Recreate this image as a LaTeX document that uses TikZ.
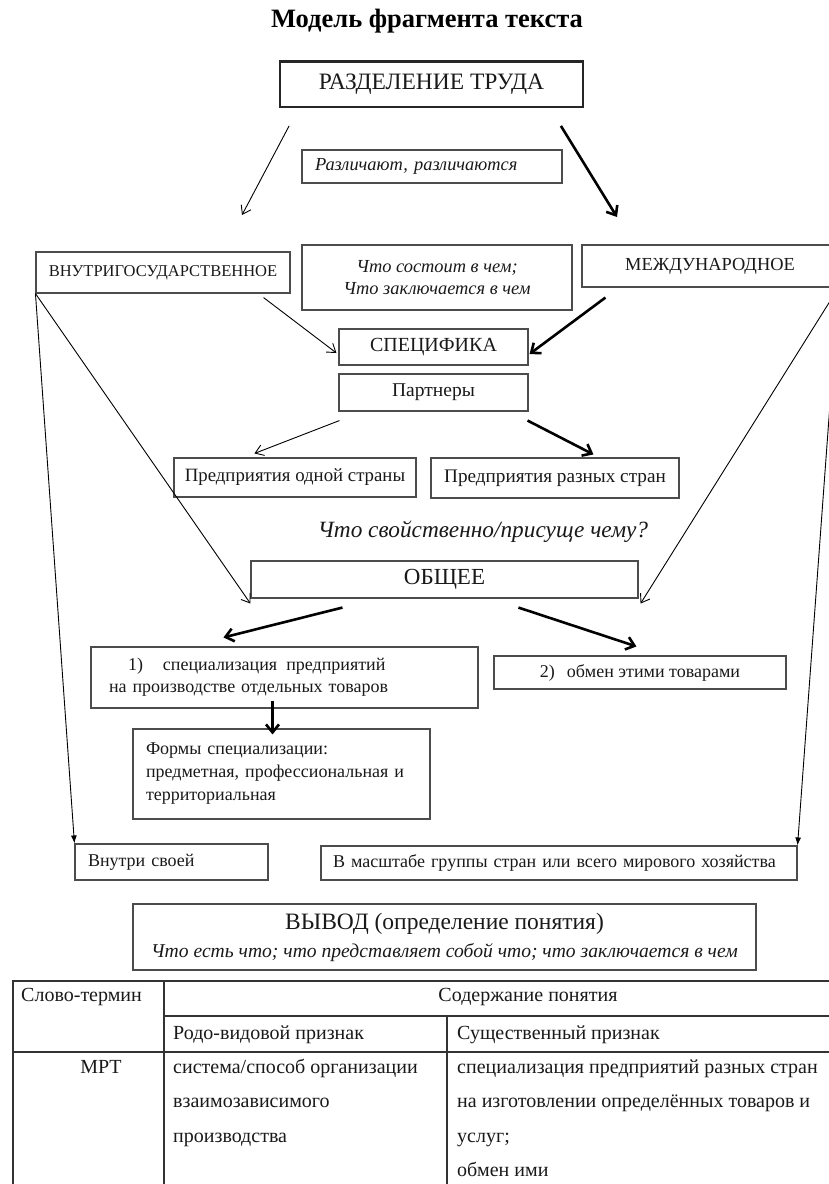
\documentclass[tikz,border=0pt]{standalone}
\usepackage{fontspec}
\setmainfont{Liberation Serif}
\usetikzlibrary{calc,arrows.meta}
\newcommand\setfs[2]{\fontsize{#1}{#2}\selectfont}

\begin{document}
\begin{tikzpicture}[x=1pt,y=-1pt,
  box/.style={draw=black!70,line width=1.1pt,inner sep=0pt,text=black!90,font=\setfs{18}{21}},
  thinarr/.style={line width=.9pt,-{Straight Barb[length=8pt,width=11pt]}},
  boldarr/.style={line width=2.6pt,-{Straight Barb[length=8pt,width=13pt]}},
  longarr/.style={line width=.9pt,-{Latex[length=8pt,width=6pt]}},
  tab/.style={line width=1.1pt,draw=black!80},
  cell/.style={anchor=base west,inner sep=0pt,text=black!90,font=\setfs{20}{23}}]
  \useasboundingbox (0,0) rectangle (828,1184);
  \node[anchor=base,font=\bfseries\setfs{26.5}{29}] (title) at (427,27) {Модель фрагмента текста};
  \node[box,line width=1.8pt,draw=black!85,minimum width=303pt,minimum height=45pt,font=\setfs{23.5}{26}] (razd) at (431.5,84.5) {\raisebox{-3pt}{РАЗДЕЛЕНИЕ ТРУДА}};
  \draw[line width=3pt,black!85] (razd.north west) -- (razd.north east);
  \node[box,minimum height=33pt,inner xsep=13pt,text width=234pt,align=left,font=\itshape\setfs{18.4}{21}] (razl) at (432,166.5) {Различают, различаются};
  \coordinate (lft) at (242,215);
  \coordinate (rgt) at (617,217);
  \draw[thinarr] ($(razd.south west)+(10,18)$) -- (lft);
  \draw[boldarr] ($(razd.south east)+(-23,18)$) -- (rgt);

  \node[box,minimum width=254pt,minimum height=41pt,font=\setfs{16.5}{19}] (vnutri) at (163,272.5) {ВНУТРИГОСУДАРСТВЕННОЕ};
  \node[box,minimum width=270pt,minimum height=65pt,align=center,font=\itshape\setfs{18.4}{22}] (chto) at (437,277.5) {Что состоит в чем;\\Что заключается в чем};
  \node[box,minimum width=256pt,minimum height=42pt,font=\setfs{18.4}{20}] (mezhd) at (710,266) {МЕЖДУНАРОДНОЕ};
  \node[box,minimum width=189pt,minimum height=36pt,font=\setfs{20}{22}] (spec) at (433.5,347) {СПЕЦИФИКА};
  \node[box,minimum width=189pt,minimum height=37pt,font=\setfs{19.5}{22}] (partn) at (433.5,392.5) {Партнеры};
  \draw[thinarr] ($(vnutri.south east)+(-27,4)$) -- ($(spec.west)+(-2,6)$);
  \draw[boldarr] ($(mezhd.south west)+(24,10)$) -- ($(spec.east)+(1,7)$);

  \node[box,minimum width=242pt,minimum height=39pt,font=\setfs{18.8}{22}] (odnoi) at (295,477.5) {Предприятия одной страны};
  \node[box,minimum width=248pt,minimum height=40pt,font=\setfs{19.2}{22}] (raznyh) at (555,478) {Предприятия разных стран};
  \draw[thinarr] ($(partn.south west)+(1,9)$) -- ($(odnoi.north west)+(81,-4)$);
  \draw[boldarr] ($(partn.south east)+(-1,9)$) -- ($(raznyh.north west)+(163,-3)$);

  \node[text=black!90,font=\itshape\setfs{23.3}{26}] (quest) at (483,532) {Что свойственно/присуще чему?};
  \node[box,minimum width=387pt,minimum height=37pt,font=\setfs{23}{25}] (obsch) at (444.5,579.5) {ОБЩЕЕ};
  \draw[thinarr] (vnutri.south west) -- ($(obsch.south west)+(0,5)$);
  \draw[thinarr] (mezhd.south east) -- ($(obsch.south east)+(2,5)$);

  \node[box,minimum height=61pt,inner xsep=18pt,text width=351pt,align=left,font=\setfs{18}{22}] (spec1) at (284.5,677.5)
    {\hspace*{19pt}1)\hspace{20pt}специализация\hspace{9pt}предприятий\\на производстве отдельных товаров};
  \node[box,minimum width=292pt,minimum height=33pt] (exch) at (640,672.5) {2)\hspace{12pt}обмен этими товарами};
  \draw[boldarr] ($(obsch.south west)+(92,9)$) -- ($(spec1.north west)+(133,-9)$);
  \draw[boldarr] ($(obsch.south west)+(268,9)$) -- ($(exch.north west)+(143,-9)$);

  \node[box,minimum height=90pt,inner xsep=13pt,text width=271pt,align=left,font=\setfs{18}{23}] (forms) at (281.5,774)
    {Формы специализации:\\предметная, профессиональная и\\территориальная};
  \draw[boldarr] ($(spec1.south)+(-12,-8)$) -- ($(forms.north)+(-9,6)$);

  \node[box,minimum height=36pt,inner xsep=13pt,text width=167pt,align=left] (vsvoei) at (171.5,862) {Внутри своей};
  \node[box,minimum height=34pt,inner xsep=12pt,text width=452pt,align=left] (vmasht) at (559,863) {В масштабе группы стран или всего мирового хозяйства};
  \draw[longarr] (vnutri.south west) -- (vsvoei.north west);
  \draw[longarr] (mezhd.south east) -- (vmasht.north east);

  \node[box,minimum width=623pt,minimum height=66pt,align=center,font=\setfs{23.5}{28}] (vyvod) at (444.5,937)
    {ВЫВОД (определение понятия)\\{\itshape\fontsize{19.6}{28}\selectfont Что есть что; что представляет собой что; что заключается в чем}};

  \draw[tab] (13,1190) -- (13,981) -- (840,981);
  \draw[tab] (164,981) -- (164,1190);
  \draw[tab] (164,1016) -- (840,1016);
  \draw[tab] (13,1052) -- (840,1052);
  \draw[tab] (447,1016) -- (447,1190);
  \node[cell] (term) at (21,1001) {Слово-термин};
  \node[cell,anchor=base] (content) at (528,1001) {Содержание понятия};
  \node[cell] (genus) at (173,1039) {Родо-видовой признак};
  \node[cell] (essen) at (457,1039) {Существенный признак};
  \node[cell,anchor=base] (mrt) at (101,1073) {МРТ};
  \foreach \t [count=\i] in {система/способ организации,взаимозависимого,производства}
    \node[cell] (gen\i) at (173,{1073+34.5*(\i-1)}) {\t};
  \foreach \t [count=\i] in {специализация предприятий разных стран,на изготовлении определённых товаров и,услуг;,обмен ими}
    \node[cell] (ess\i) at (457,{1073+34.5*(\i-1)}) {\t};
\end{tikzpicture}
\end{document}
